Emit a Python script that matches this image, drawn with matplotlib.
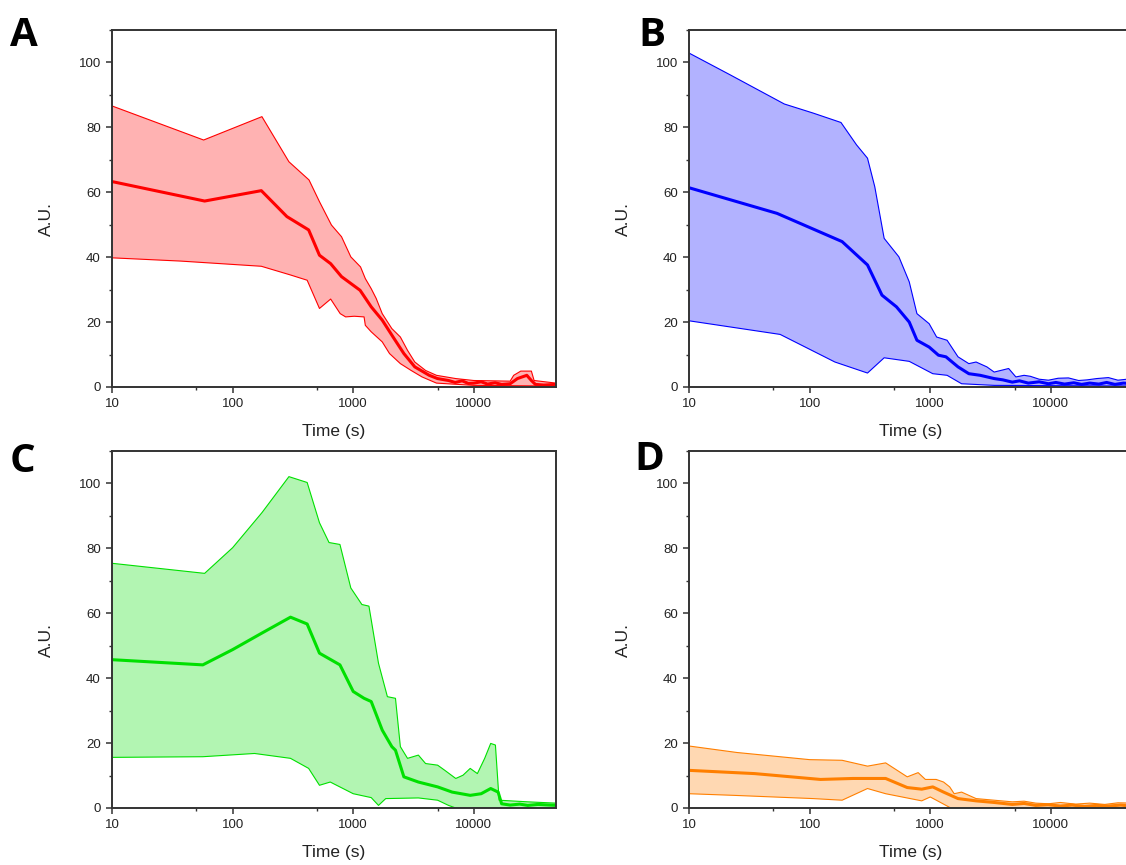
import numpy as np
import matplotlib
matplotlib.use("Agg")
import matplotlib.pyplot as plt
import matplotlib.ticker as ticker

plt.rcParams['font.family'] = ['Liberation Sans', 'DejaVu Sans']

# ---- panel A (red) ----
a_mean_t = [10, 58.6, 173, 282, 427, 525, 650, 800, 1140, 1410, 1740, 2140, 2630, 3240, 4270,
            5000, 6170, 7000, 8000, 9000, 10000, 11500, 13000, 15000, 17000, 20000, 23000,
            27500, 30000, 32400, 38000, 48000]
a_mean = [63.3, 57.3, 60.5, 52.5, 48.4, 40.6, 38.0, 34.0, 29.8, 24.7, 20.6, 15.4, 10.3, 6.2, 3.6,
          2.6, 2.0, 1.4, 1.9, 1.1, 1.2, 1.6, 0.9, 1.3, 0.8, 1.0, 2.6, 3.6, 2.0, 0.8, 0.6, 0.8]
a_high_t = [10, 57.5, 175, 293, 430, 525, 660, 800, 955, 1150, 1260, 1410, 1550, 1740, 2090, 2460,
            2820, 3240, 3980, 4900, 7080, 10000, 20000, 21400, 24500, 30000, 31600, 48000]
a_high = [86.6, 76.1, 83.3, 69.4, 63.8, 57.1, 49.9, 46.3, 40.1, 37.0, 33.4, 30.3, 27.3, 22.6, 18.0,
          15.4, 11.3, 7.7, 5.1, 3.6, 2.6, 2.0, 1.8, 3.6, 4.9, 4.9, 2.0, 1.2]
a_low_t = [10, 37, 173, 303, 415, 525, 650, 780, 865, 1020, 1230, 1260, 1410, 1740, 2000, 2460,
           3020, 3720, 4900, 10000, 48000]
a_low = [39.8, 38.8, 37.2, 34.5, 32.9, 24.2, 27.1, 22.6, 21.6, 21.8, 21.6, 19.0, 17.0, 13.9, 10.3,
         7.2, 5.1, 3.1, 1.2, 0.5, 0.3]

# ---- panel B (blue) ----
b_mean_t = [10, 53.7, 186, 302, 398, 525, 670, 776, 980, 1170, 1350, 1700, 2090, 2600, 3390,
            4000, 4790, 5500, 6500, 8000, 9550, 11000, 13000, 15500, 18000, 21000, 25000,
            29000, 34000, 40000, 48000]
b_mean = [61.4, 53.5, 44.8, 37.6, 28.3, 24.7, 20.0, 14.4, 12.3, 9.8, 9.3, 6.2, 4.1, 3.6, 2.6,
          2.2, 1.5, 1.9, 1.2, 1.6, 1.0, 1.4, 0.9, 1.3, 0.8, 1.2, 0.9, 1.4, 0.8, 1.2, 1.0]
b_high_t = [10, 21.9, 61.7, 107, 182, 245, 302, 347, 415, 550, 670, 776, 980, 1130, 1380, 1700,
            2090, 2400, 2950, 3390, 4470, 5130, 6000, 6760, 8000, 9550, 11500, 14000, 17000,
            20000, 24000, 30000, 36000, 48000]
b_high = [102.9, 96.2, 87.2, 84.4, 81.5, 74.6, 70.5, 61.7, 45.8, 40.1, 32.4, 22.6, 19.5, 15.4,
          14.4, 9.3, 7.2, 7.7, 6.2, 4.6, 5.7, 3.1, 3.6, 3.3, 2.4, 2.1, 2.7, 2.8, 2.0, 2.2, 2.6,
          2.9, 2.1, 2.6]
b_low_t = [10, 57, 162, 302, 415, 670, 1050, 1380, 1820, 3390, 48000]
b_low = [20.4, 16.2, 7.7, 4.3, 9.0, 7.9, 4.1, 3.6, 1.0, 0.5, 0.3]

# ---- panel C (green) ----
c_mean_t = [10, 56.6, 100, 175, 302, 415, 525, 776, 1000, 1230, 1410, 1740, 2090, 2240, 2630,
            3470, 5010, 6610, 9330, 11500, 13800, 15900, 17000, 20000, 24000, 28000, 34000, 48000]
c_mean = [45.7, 44.1, 48.8, 53.9, 58.8, 56.7, 47.7, 44.1, 35.9, 33.8, 32.8, 24.0, 18.9, 17.8, 9.6,
          8.0, 6.5, 4.9, 3.9, 4.4, 6.0, 4.9, 1.3, 0.9, 1.2, 0.8, 1.1, 0.8]
c_high_t = [10, 58.6, 100, 175, 293, 415, 525, 630, 776, 955, 1180, 1350, 1620, 1920, 2240, 2460,
            2820, 3470, 3980, 5010, 5750, 7080, 8130, 9330, 10700, 12300, 13800, 15100, 16200,
            28000, 48000]
c_high = [75.4, 72.3, 80.2, 91.0, 102.1, 100.3, 87.9, 81.8, 81.2, 67.8, 62.7, 62.2, 44.6, 34.3,
          33.8, 18.9, 15.3, 16.3, 13.7, 13.2, 11.6, 9.1, 10.1, 12.2, 10.6, 15.3, 19.9, 19.4, 2.4,
          1.9, 1.5]
c_low_t = [10, 56.6, 152, 302, 427, 525, 645, 1000, 1410, 1620, 1860, 3470, 5010, 6170, 7080,
           48000]
c_low = [15.6, 15.8, 16.8, 15.3, 12.2, 7.0, 8.0, 4.4, 3.2, 0.8, 2.9, 3.1, 2.4, 0.8, 0.0, 0.0]

# ---- panel D (orange) ----
d_mean_t = [10, 35, 123, 229, 427, 645, 850, 1050, 1290, 1700, 2400, 3400, 4790, 6000, 7500,
            9500, 12000, 15000, 19000, 24000, 30000, 38000, 48000]
d_mean = [11.6, 10.6, 8.8, 9.1, 9.1, 6.3, 5.8, 6.5, 4.9, 2.9, 2.2, 1.7, 1.1, 1.4, 0.8, 1.0,
          0.6, 0.9, 0.5, 0.8, 0.6, 0.9, 0.5]
d_high_t = [10, 25, 100, 186, 302, 427, 645, 794, 912, 1120, 1290, 1450, 1580, 1820, 2400, 3390,
            4790, 6000, 7500, 9550, 12000, 16000, 21000, 28000, 36000, 48000]
d_high = [19.1, 17.1, 14.9, 14.7, 12.9, 13.9, 9.6, 10.9, 8.8, 8.8, 8.0, 6.5, 4.4, 4.9, 2.9, 2.4,
          1.9, 2.1, 1.5, 1.3, 1.7, 1.2, 1.5, 1.1, 1.6, 1.5]
d_low_t = [10, 23.4, 107, 186, 302, 427, 850, 1000, 1150, 1480, 48000]
d_low = [4.4, 3.9, 2.9, 2.4, 6.0, 4.4, 2.2, 3.4, 2.2, 0.0, 0.0]

panels = [
    ('A', '#ff0000', a_mean_t, a_mean, a_high_t, a_high, a_low_t, a_low),
    ('B', '#0000ff', b_mean_t, b_mean, b_high_t, b_high, b_low_t, b_low),
    ('C', '#00e000', c_mean_t, c_mean, c_high_t, c_high, c_low_t, c_low),
    ('D', '#ff7f00', d_mean_t, d_mean, d_high_t, d_high, d_low_t, d_low),
]

W, H = 1126, 865
# axes boxes in pixels: left, top, width, height
boxes = [(112, 30, 444, 357), (689, 30, 444, 357),
         (112, 451, 444, 357), (689, 451, 444, 357)]
letter_pos = [(10, 46), (638, 46), (10, 472), (634, 470)]

fig = plt.figure(figsize=(W / 100, H / 100), dpi=100)

for (name, color, mt, m, ht, hi, lt, lo), (l, t, w, h), (lx, ly) in zip(panels, boxes, letter_pos):
    ax = fig.add_axes([l / W, 1 - (t + h) / H, w / W, h / H])
    # shaded band as polygon between upper and lower curves
    px = np.concatenate([ht, lt[::-1]])
    py = np.concatenate([hi, lo[::-1]])
    ax.fill(px, py, color=color, alpha=0.3, lw=0)
    ax.plot(ht, hi, color=color, lw=0.8)
    ax.plot(lt, lo, color=color, lw=0.8)
    ax.plot(mt, m, color=color, lw=2.2)

    ax.set_xscale('log')
    ax.set_xlim(10, 48000)
    ax.set_ylim(0, 110)
    ax.xaxis.set_major_locator(ticker.FixedLocator([10, 100, 1000, 10000]))
    ax.xaxis.set_major_formatter(ticker.FixedFormatter(['10', '100', '1000', '10000']))
    ax.xaxis.set_minor_locator(ticker.FixedLocator([50, 500, 5000]))
    ax.xaxis.set_minor_formatter(ticker.NullFormatter())
    ax.yaxis.set_major_locator(ticker.MultipleLocator(20))
    ax.yaxis.set_minor_locator(ticker.MultipleLocator(10))
    ax.tick_params(which='major', direction='out', length=4.5, width=1.1, labelsize=9.5,
                   colors='#333333', labelcolor='#222222', top=False, right=False)
    ax.tick_params(which='minor', direction='out', length=2.5, width=1.0, colors='#333333',
                   top=False, right=False)
    for s in ax.spines.values():
        s.set_linewidth(1.4)
        s.set_color('#333333')
    ax.set_xlabel('Time (s)', fontsize=12.5, color='#222222', labelpad=10)
    ax.set_ylabel('A.U.', fontsize=12.5, color='#222222')
    ax.yaxis.set_label_coords(-0.13, 0.47)
    fig.text(lx / W, 1 - ly / H, name, fontsize=29, fontweight='bold',
             family=['Open Sans', 'DejaVu Sans'], ha='left', va='baseline')

fig.savefig('out.png', dpi=100)
